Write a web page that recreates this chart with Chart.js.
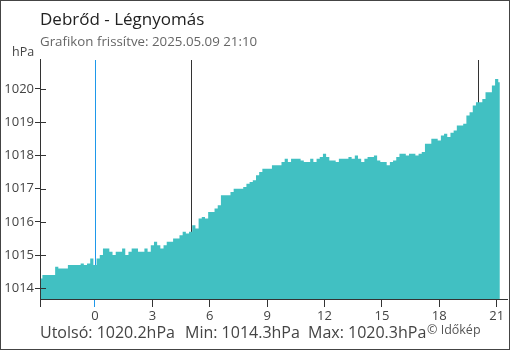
<!DOCTYPE html>
<html>
<head>
<meta charset="utf-8">
<script src="https://cdn.jsdelivr.net/npm/chart.js@4"></script>
<style>
  html, body { margin: 0; padding: 0; background: #fff; }
  #wrap { width: 510px; height: 350px; }
</style>
</head>
<body>
<div id="wrap"><canvas id="pressureChart" width="510" height="350"></canvas></div>
<script>
// Debrőd - légnyomás, 10 perces mérések (21:10 előző nap -> 21:10)
const startHour = -17 / 6;      // 21:10 az előző napon
const stepMinutes = 10;
const pressure = [
    1014.3, 1014.4, 1014.4, 1014.4, 1014.4, 1014.65, 1014.6, 1014.6, 1014.6, 1014.7,
    1014.7, 1014.7, 1014.7, 1014.75, 1014.7, 1014.75, 1014.9, 1014.7, 1014.9, 1015.0,
    1015.2, 1015.2, 1015.1, 1015.0, 1015.1, 1015.1, 1015.2, 1015.0, 1015.1, 1015.2,
    1015.2, 1015.1, 1015.1, 1015.2, 1015.1, 1015.3, 1015.4, 1015.3, 1015.2, 1015.3,
    1015.4, 1015.4, 1015.5, 1015.5, 1015.6, 1015.7, 1015.65, 1015.7, 1015.9, 1015.8,
    1016.1, 1016.15, 1016.1, 1016.3, 1016.3, 1016.4, 1016.5, 1016.8, 1016.8, 1016.8,
    1016.9, 1017.0, 1017.0, 1017.0, 1017.05, 1017.15, 1017.2, 1017.25, 1017.4, 1017.5,
    1017.6, 1017.6, 1017.6, 1017.7, 1017.7, 1017.7, 1017.8, 1017.9, 1017.8, 1017.9,
    1017.9, 1017.9, 1017.85, 1017.8, 1017.8, 1017.9, 1017.8, 1017.9, 1017.95, 1018.05,
    1017.95, 1017.85, 1017.85, 1017.8, 1017.9, 1017.9, 1017.9, 1017.95, 1017.9, 1018.0,
    1017.9, 1017.8, 1017.9, 1017.95, 1017.95, 1018.0, 1017.85, 1017.8, 1017.8, 1017.7,
    1017.8, 1017.85, 1017.95, 1018.05, 1018.05, 1018.0, 1018.05, 1018.05, 1018.0, 1018.05,
    1018.1, 1018.35, 1018.35, 1018.5, 1018.5, 1018.45, 1018.6, 1018.65, 1018.55, 1018.68,
    1018.75, 1018.9, 1018.9, 1018.95, 1019.2, 1019.3, 1019.5, 1019.6, 1019.6, 1019.7,
    1019.9, 1019.9, 1020.1, 1020.3, 1020.2
];
const xTickHours = [0, 3, 6, 9, 12, 15, 18, 21];
const yTickValues = [1014, 1015, 1016, 1017, 1018, 1019, 1020];
const midnightHour = 0;
const markerHours = [5, 20];

const title = 'Debrőd - Légnyomás';
const subtitle = 'Grafikon frissítve: 2025.05.09 21:10';
const unit = 'hPa';

const xMin = -2.875;
const xMax = 21.54;
const yMin = 1013.68;
const yMax = 1020.9;

const fillColor = '#41c0c2';
const blue = '#1e98ea';
const dark = '#333';
const fontFamily = "'Open Sans', 'Noto Sans', sans-serif";

const points = pressure.map((v, i) => ({ x: startHour + i * stepMinutes / 60, y: v }));
const last = pressure[pressure.length - 1];
const minVal = Math.min(...pressure);
const maxVal = Math.max(...pressure);

const decorPlugin = {
    id: 'decor',
    beforeDatasetsDraw(chart) {
        const { ctx, chartArea, scales } = chart;
        ctx.save();
        ctx.lineWidth = 1;
        const drawV = (h, color) => {
            const px = Math.round(scales.x.getPixelForValue(h)) + 0.5;
            ctx.strokeStyle = color;
            ctx.beginPath();
            ctx.moveTo(px, chartArea.top + 1);
            ctx.lineTo(px, chartArea.bottom);
            ctx.stroke();
        };
        drawV(midnightHour, blue);
        markerHours.forEach(h => drawV(h, dark));
        ctx.restore();
    },
    afterDatasetsDraw(chart) {
        // y ticks reach a bit into the plot
        const { ctx, chartArea, scales } = chart;
        ctx.save();
        ctx.strokeStyle = dark;
        ctx.lineWidth = 1;
        yTickValues.forEach(v => {
            const py = Math.round(scales.y.getPixelForValue(v)) + 0.5;
            ctx.beginPath();
            ctx.moveTo(chartArea.left, py);
            ctx.lineTo(chartArea.left + 6, py);
            ctx.stroke();
        });
        ctx.restore();
    },
    afterDraw(chart) {
        const { ctx, width, height } = chart;
        ctx.save();
        ctx.textAlign = 'left';
        ctx.textBaseline = 'alphabetic';

        ctx.fillStyle = '#222';
        ctx.font = '17px ' + fontFamily;
        ctx.fillText(title, 40, 25);

        ctx.fillStyle = '#666';
        ctx.font = '13.3px ' + fontFamily;
        ctx.fillText(subtitle, 40, 46);

        ctx.fillStyle = '#444';
        ctx.font = '12.5px ' + fontFamily;
        ctx.fillText(unit, 12, 56);

        ctx.fillStyle = '#444';
        ctx.font = '16px ' + fontFamily;
        ctx.fillText('Utolsó: ' + last.toFixed(1) + unit, 40, 338);
        ctx.fillText('Min: ' + minVal.toFixed(1) + unit, 185, 338);
        ctx.fillText('Max: ' + maxVal.toFixed(1) + unit, 308, 338);

        ctx.fillStyle = '#555';
        ctx.font = '12.5px ' + fontFamily;
        ctx.fillText('© Időkép', 427, 334);

        // frame
        ctx.strokeStyle = '#444';
        ctx.lineWidth = 1;
        ctx.strokeRect(0.5, 0.5, width - 1, height - 1);
        ctx.restore();
    }
};

new Chart(document.getElementById('pressureChart'), {
    type: 'line',
    data: {
        datasets: [{
            data: points,
            stepped: 'middle',
            fill: 'start',
            backgroundColor: fillColor,
            borderWidth: 0,
            borderColor: fillColor,
            pointRadius: 0
        }]
    },
    options: {
        responsive: false,
        animation: false,
        devicePixelRatio: 1,
        layout: { padding: { top: 59, right: 3, left: 0, bottom: 0 } },
        plugins: {
            legend: { display: false },
            tooltip: { enabled: false }
        },
        scales: {
            x: {
                type: 'linear',
                min: xMin,
                max: xMax,
                afterFit: scale => { scale.height = 51; },
                afterBuildTicks: scale => {
                    scale.ticks = [{ value: xMin }].concat(xTickHours.map(h => ({ value: h })));
                },
                border: { color: dark, width: 1 },
                grid: {
                    drawOnChartArea: false,
                    tickLength: 8,
                    color: dark,
                    tickColor: c => (c.tick && c.tick.value === midnightHour) ? blue : dark
                },
                ticks: {
                    autoSkip: false,
                    maxRotation: 0,
                    padding: 1,
                    color: '#444',
                    font: { family: fontFamily, size: 13 },
                    callback: v => xTickHours.includes(v) ? String(v) : ''
                }
            },
            y: {
                min: yMin,
                max: yMax,
                afterFit: scale => { scale.width = 40; },
                afterBuildTicks: scale => {
                    scale.ticks = yTickValues.map(v => ({ value: v }));
                },
                border: { color: dark, width: 1 },
                grid: {
                    drawOnChartArea: false,
                    tickLength: 5,
                    color: dark
                },
                ticks: {
                    padding: 1,
                    color: '#444',
                    font: { family: fontFamily, size: 13 },
                    callback: v => String(v)
                }
            }
        }
    },
    plugins: [decorPlugin]
});
</script>
</body>
</html>
